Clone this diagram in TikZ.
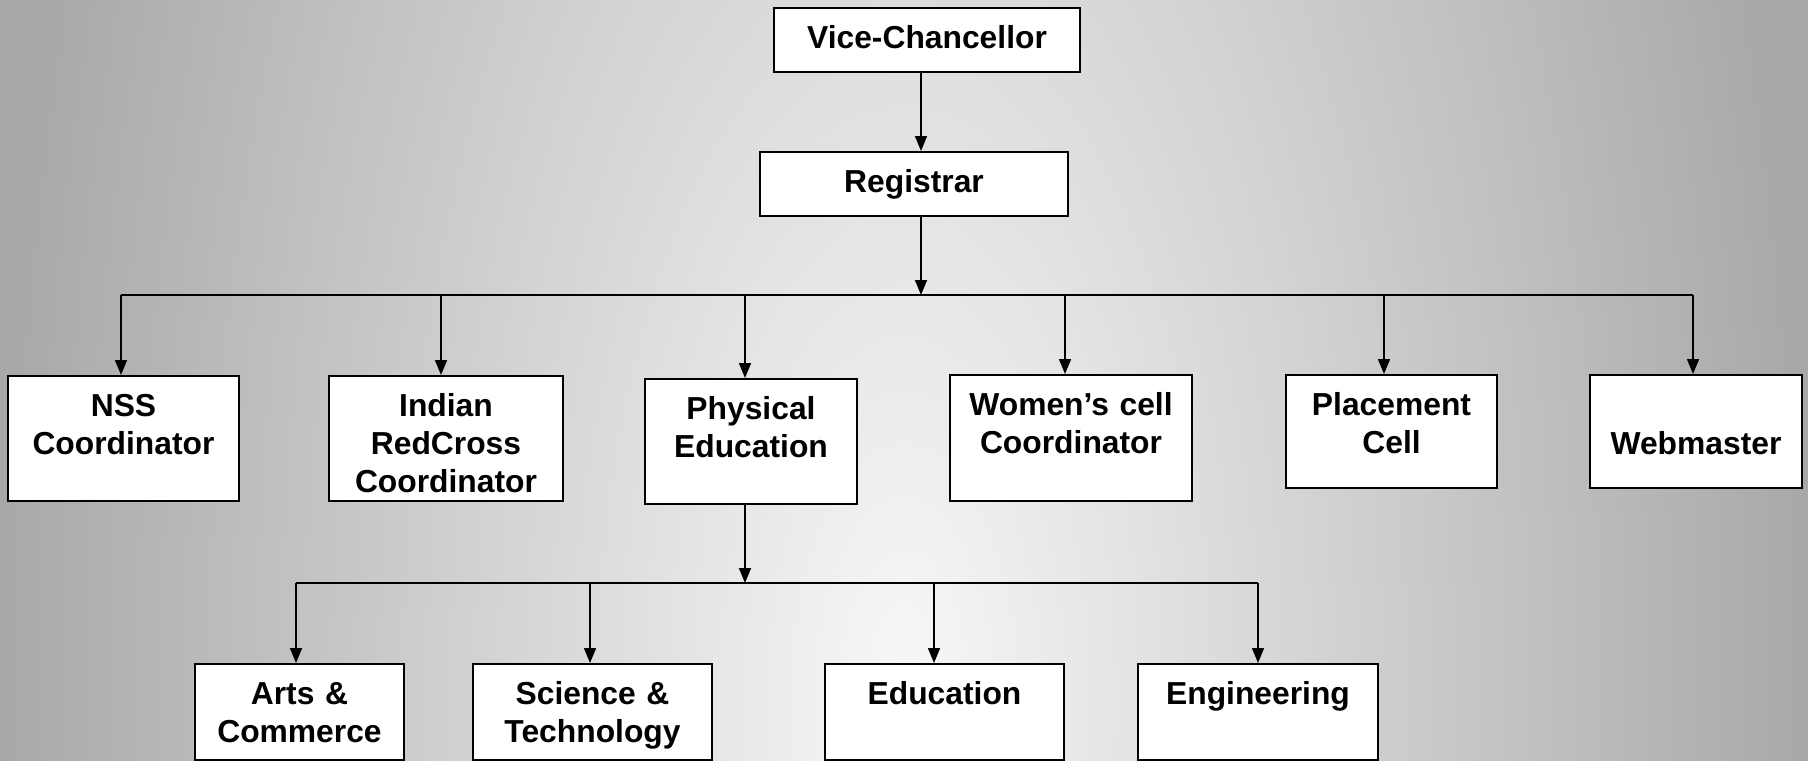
\documentclass[tikz,border=0pt]{standalone}
\usepackage{fontspec}
\setmainfont{Liberation Sans}
\usetikzlibrary{arrows.meta}

\newcommand{\orgfont}{\fontsize{15.9}{19}\selectfont\bfseries}

\tikzset{
  unit/.style={draw, line width=1pt, fill=white, anchor=north, align=center,
    inner sep=0pt, text height=20pt, font=\orgfont},
  link/.style={line width=0.8pt, -{Triangle[length=7.5pt,width=6pt]}},
  bus/.style={line width=1pt}
}

\begin{document}
\begin{tikzpicture}[x=0.5pt, y=-0.5pt]
  %background
  \useasboundingbox (0,0) rectangle (1808,760);
  \begin{scope}
    \clip (0,0) rectangle (1808,760);
    \shade[inner color=black!3, outer color=black!34] (0,-1360) rectangle (1808,2760);
  \end{scope}

  %top
  \node[unit, text width=153pt, text depth=12pt] (vc) at (927,7) {Vice-Chancellor};
  \node[unit, text width=154pt, text depth=12pt] (reg) at (914,151) {Registrar};

  %cells under the registrar
  \node[unit, text width=115.5pt, text depth=42.5pt] (nss) at (123.5,375) {NSS\\Coordinator};
  \node[unit, text width=117pt, text depth=42.5pt] (irc) at (446,375) {Indian\\RedCross\\Coordinator};
  \node[unit, text width=106pt, text depth=42.5pt] (pe) at (751,378) {Physical\\Education};
  \node[unit, text width=121pt, text depth=43pt] (wc) at (1071,374) {Women’s cell\\Coordinator};
  \node[unit, text width=105.5pt, text depth=36.5pt] (pc) at (1391.5,374) {Placement\\Cell};
  \node[unit, text width=106pt, text height=39.5pt, text depth=17pt] (wm) at (1696,374) {Webmaster};

  %faculties
  \node[unit, text width=104.5pt, text depth=28pt] (ac) at (299.5,663) {Arts \&\\Commerce};
  \node[unit, text width=119.5pt, text depth=28pt] (st) at (592.5,663) {Science \&\\Technology};
  \node[unit, text width=119.5pt, text depth=28pt] (ed) at (944.5,663) {Education};
  \node[unit, text width=120pt, text depth=28pt] (en) at (1258,663) {Engineering};

  %bus points
  \coordinate (t1) at (921,295);
  \coordinate (b1) at (121,295);
  \coordinate (b2) at (441,295);
  \coordinate (b3) at (745,295);
  \coordinate (b4) at (1065,295);
  \coordinate (b5) at (1384,295);
  \coordinate (b6) at (1693,295);
  \coordinate (t2) at (745,583);
  \coordinate (c1) at (296,583);
  \coordinate (c2) at (590,583);
  \coordinate (c3) at (934,583);
  \coordinate (c4) at (1258,583);

  %connectors
  \draw[link] (vc.south -| t1) -- (reg.north -| t1);
  \draw[link] (reg.south -| t1) -- (t1);
  \draw[bus] (b1) -- (b6);
  \foreach \c/\n in {b1/nss, b2/irc, b3/pe, b4/wc, b5/pc, b6/wm}
    \draw[link] (\c) -- (\c |- \n.north);

  \draw[link] (pe.south -| t2) -- (t2);
  \draw[bus] (c1) -- (c4);
  \foreach \c/\n in {c1/ac, c2/st, c3/ed, c4/en}
    \draw[link] (\c) -- (\c |- \n.north);

\end{tikzpicture}
\end{document}
